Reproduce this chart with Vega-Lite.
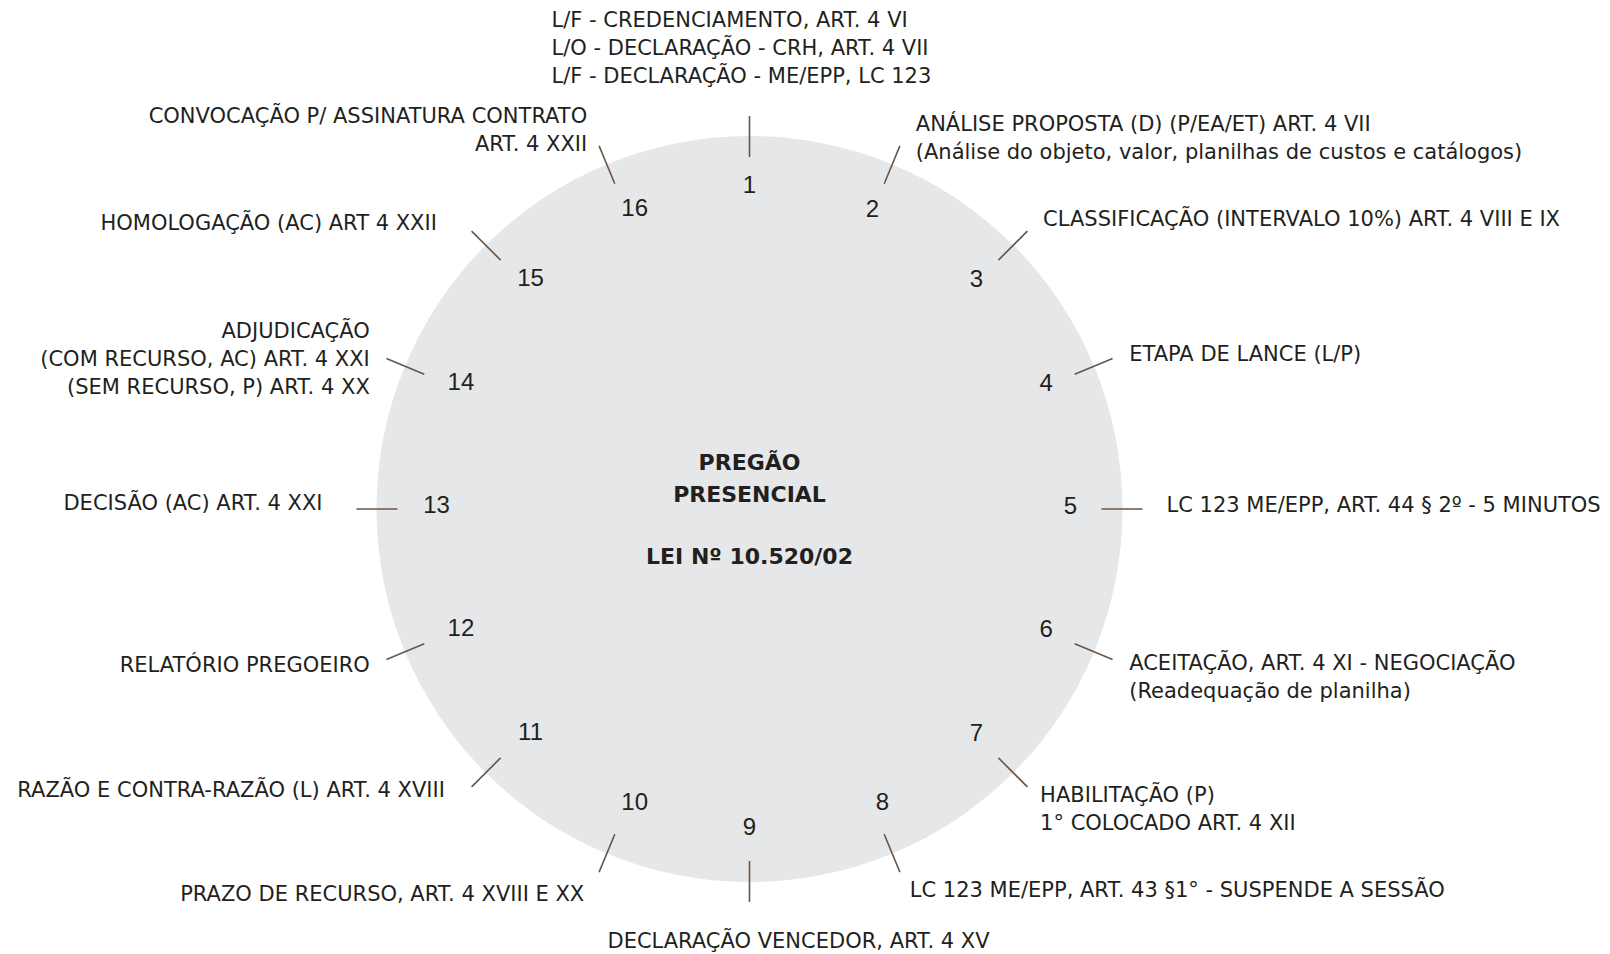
{
  "$schema": "https://vega.github.io/schema/vega-lite/v6.json",
  "width": 1499,
  "height": 890,
  "autosize": {"type": "none"},
  "padding": {"left": 0, "top": 64, "right": 111, "bottom": 0},
  "background": "white",
  "config": {
    "view": {"stroke": null},
    "font": "DejaVu Sans",
    "text": {"font": "DejaVu Sans", "fontSize": 21, "lineHeight": 28.2, "color": "#231f20", "baseline": "middle"}
  },
  "datasets": {
    "steps": [
      {"step": 1, "label": ["L/F -  CREDENCIAMENTO, ART. 4 VI", "L/O -  DECLARAÇÃO - CRH, ART. 4 VII", "L/F -  DECLARAÇÃO - ME/EPP, LC 123"]},
      {"step": 2, "label": ["ANÁLISE PROPOSTA (D) (P/EA/ET) ART. 4 VII", "(Análise do objeto, valor, planilhas de custos e catálogos)"]},
      {"step": 3, "label": ["CLASSIFICAÇÃO (INTERVALO 10%) ART. 4 VIII E IX"]},
      {"step": 4, "label": ["ETAPA DE LANCE (L/P)"]},
      {"step": 5, "label": ["LC 123 ME/EPP, ART. 44 § 2º - 5 MINUTOS"]},
      {"step": 6, "label": ["ACEITAÇÃO, ART. 4 XI - NEGOCIAÇÃO", "(Readequação de planilha)"]},
      {"step": 7, "label": ["HABILITAÇÃO (P)", "1° COLOCADO ART. 4 XII"]},
      {"step": 8, "label": ["LC 123 ME/EPP, ART. 43 §1° - SUSPENDE A SESSÃO"]},
      {"step": 9, "label": ["DECLARAÇÃO VENCEDOR, ART. 4 XV"]},
      {"step": 10, "label": ["PRAZO DE RECURSO, ART. 4 XVIII E XX"]},
      {"step": 11, "label": ["RAZÃO E CONTRA-RAZÃO (L) ART. 4 XVIII"]},
      {"step": 12, "label": ["RELATÓRIO PREGOEIRO"]},
      {"step": 13, "label": ["DECISÃO (AC) ART. 4 XXI"]},
      {"step": 14, "label": ["ADJUDICAÇÃO", "(COM RECURSO, AC) ART. 4 XXI", "(SEM RECURSO, P) ART. 4 XX"]},
      {"step": 15, "label": ["HOMOLOGAÇÃO (AC) ART 4 XXII"]},
      {"step": 16, "label": ["CONVOCAÇÃO P/ ASSINATURA CONTRATO", "ART. 4 XXII"]}
    ],
    "center": [
      {"title": ["PREGÃO", "PRESENCIAL"], "law": "LEI Nº 10.520/02"}
    ]
  },
  "layer": [
    {
      "data": {"name": "center"},
      "mark": {"type": "arc", "color": "#e6e7e8"},
      "encoding": {
        "theta": {"datum": 1, "type": "quantitative", "scale": {"domain": [1, 17], "range": [0, 6.283185307179586]}},
        "theta2": {"datum": 17},
        "radius": {"value": 373}
      }
    },
    {
      "data": {"name": "steps"},
      "mark": {"type": "arc", "filled": false, "color": "#6b5646", "strokeWidth": 1.6},
      "encoding": {
        "theta": {"field": "step", "type": "quantitative", "stack": null, "scale": {"domain": [1, 17], "range": [0, 6.283185307179586]}},
        "theta2": {"field": "step"},
        "radius": {"value": 393},
        "radius2": {"value": 352}
      }
    },
    {
      "data": {"name": "steps"},
      "transform": [{"filter": "datum.step < 10 && datum.step != 8"}],
      "mark": {"type": "text", "font": "Liberation Sans", "fontSize": 24, "align": "center", "dy": -2},
      "encoding": {
        "theta": {"field": "step", "type": "quantitative", "stack": null},
        "radius": {"value": 321},
        "text": {"field": "step", "type": "nominal"}
      }
    },
    {
      "data": {"name": "steps"},
      "transform": [{"filter": "datum.step == 8"}],
      "mark": {"type": "text", "font": "Liberation Sans", "fontSize": 24, "align": "center", "dx": 10, "dy": -3},
      "encoding": {
        "theta": {"field": "step", "type": "quantitative", "stack": null},
        "radius": {"value": 321},
        "text": {"field": "step", "type": "nominal"}
      }
    },
    {
      "data": {"name": "steps"},
      "transform": [{"filter": "datum.step >= 10"}],
      "mark": {"type": "text", "font": "Liberation Sans", "fontSize": 24, "align": "center", "dx": 8, "dy": -3},
      "encoding": {
        "theta": {"field": "step", "type": "quantitative", "stack": null},
        "radius": {"value": 321},
        "text": {"field": "step", "type": "nominal"}
      }
    },
    {
      "data": {"name": "steps"},
      "transform": [{"filter": "datum.step == 1"}],
      "mark": {"type": "text", "align": "left", "dx": -198, "dy": -26},
      "encoding": {"theta": {"field": "step", "type": "quantitative", "stack": null}, "radius": {"value": 462}, "text": {"field": "label"}}
    },
    {
      "data": {"name": "steps"},
      "transform": [{"filter": "datum.step == 2"}],
      "mark": {"type": "text", "align": "left", "dx": 9, "dy": -4},
      "encoding": {"theta": {"field": "step", "type": "quantitative", "stack": null}, "radius": {"value": 411}, "text": {"field": "label"}}
    },
    {
      "data": {"name": "steps"},
      "transform": [{"filter": "datum.step == 3"}],
      "mark": {"type": "text", "align": "left", "dx": 3, "dy": 2},
      "encoding": {"theta": {"field": "step", "type": "quantitative", "stack": null}, "radius": {"value": 411}, "text": {"field": "label"}}
    },
    {
      "data": {"name": "steps"},
      "transform": [{"filter": "datum.step == 4"}],
      "mark": {"type": "text", "align": "left", "dx": 0, "dy": 3},
      "encoding": {"theta": {"field": "step", "type": "quantitative", "stack": null}, "radius": {"value": 411}, "text": {"field": "label"}}
    },
    {
      "data": {"name": "steps"},
      "transform": [{"filter": "datum.step == 5"}],
      "mark": {"type": "text", "align": "left", "dx": 6, "dy": -3},
      "encoding": {"theta": {"field": "step", "type": "quantitative", "stack": null}, "radius": {"value": 411}, "text": {"field": "label"}}
    },
    {
      "data": {"name": "steps"},
      "transform": [{"filter": "datum.step == 6"}],
      "mark": {"type": "text", "align": "left", "dx": 0, "dy": -2},
      "encoding": {"theta": {"field": "step", "type": "quantitative", "stack": null}, "radius": {"value": 411}, "text": {"field": "label"}}
    },
    {
      "data": {"name": "steps"},
      "transform": [{"filter": "datum.step == 7"}],
      "mark": {"type": "text", "align": "left", "dx": 0, "dy": -4},
      "encoding": {"theta": {"field": "step", "type": "quantitative", "stack": null}, "radius": {"value": 411}, "text": {"field": "label"}}
    },
    {
      "data": {"name": "steps"},
      "transform": [{"filter": "datum.step == 8"}],
      "mark": {"type": "text", "align": "left", "dx": 3, "dy": 2},
      "encoding": {"theta": {"field": "step", "type": "quantitative", "stack": null}, "radius": {"value": 411}, "text": {"field": "label"}}
    },
    {
      "data": {"name": "steps"},
      "transform": [{"filter": "datum.step == 9"}],
      "mark": {"type": "text", "align": "center", "dx": 49, "dy": 2},
      "encoding": {"theta": {"field": "step", "type": "quantitative", "stack": null}, "radius": {"value": 431}, "text": {"field": "label"}}
    },
    {
      "data": {"name": "steps"},
      "transform": [{"filter": "datum.step == 10"}],
      "mark": {"type": "text", "align": "right", "dx": -8, "dy": 6},
      "encoding": {"theta": {"field": "step", "type": "quantitative", "stack": null}, "radius": {"value": 411}, "text": {"field": "label"}}
    },
    {
      "data": {"name": "steps"},
      "transform": [{"filter": "datum.step == 11"}],
      "mark": {"type": "text", "align": "right", "dx": -14, "dy": -9},
      "encoding": {"theta": {"field": "step", "type": "quantitative", "stack": null}, "radius": {"value": 411}, "text": {"field": "label"}}
    },
    {
      "data": {"name": "steps"},
      "transform": [{"filter": "datum.step == 12"}],
      "mark": {"type": "text", "align": "right", "dx": 0, "dy": 0},
      "encoding": {"theta": {"field": "step", "type": "quantitative", "stack": null}, "radius": {"value": 411}, "text": {"field": "label"}}
    },
    {
      "data": {"name": "steps"},
      "transform": [{"filter": "datum.step == 13"}],
      "mark": {"type": "text", "align": "right", "dx": -16, "dy": -5},
      "encoding": {"theta": {"field": "step", "type": "quantitative", "stack": null}, "radius": {"value": 411}, "text": {"field": "label"}}
    },
    {
      "data": {"name": "steps"},
      "transform": [{"filter": "datum.step == 14"}],
      "mark": {"type": "text", "align": "right", "dx": 0, "dy": -20},
      "encoding": {"theta": {"field": "step", "type": "quantitative", "stack": null}, "radius": {"value": 411}, "text": {"field": "label"}}
    },
    {
      "data": {"name": "steps"},
      "transform": [{"filter": "datum.step == 15"}],
      "mark": {"type": "text", "align": "right", "dx": -22, "dy": 6},
      "encoding": {"theta": {"field": "step", "type": "quantitative", "stack": null}, "radius": {"value": 411}, "text": {"field": "label"}}
    },
    {
      "data": {"name": "steps"},
      "transform": [{"filter": "datum.step == 16"}],
      "mark": {"type": "text", "align": "right", "dx": -5, "dy": -12},
      "encoding": {"theta": {"field": "step", "type": "quantitative", "stack": null}, "radius": {"value": 411}, "text": {"field": "label"}}
    },
    {
      "data": {"name": "center"},
      "mark": {"type": "text", "fontSize": 22, "fontWeight": "bold", "lineHeight": 32, "align": "center", "dy": -46},
      "encoding": {"text": {"field": "title"}}
    },
    {
      "data": {"name": "center"},
      "mark": {"type": "text", "fontSize": 22, "fontWeight": "bold", "align": "center", "dy": 48},
      "encoding": {"text": {"field": "law"}}
    }
  ]
}
